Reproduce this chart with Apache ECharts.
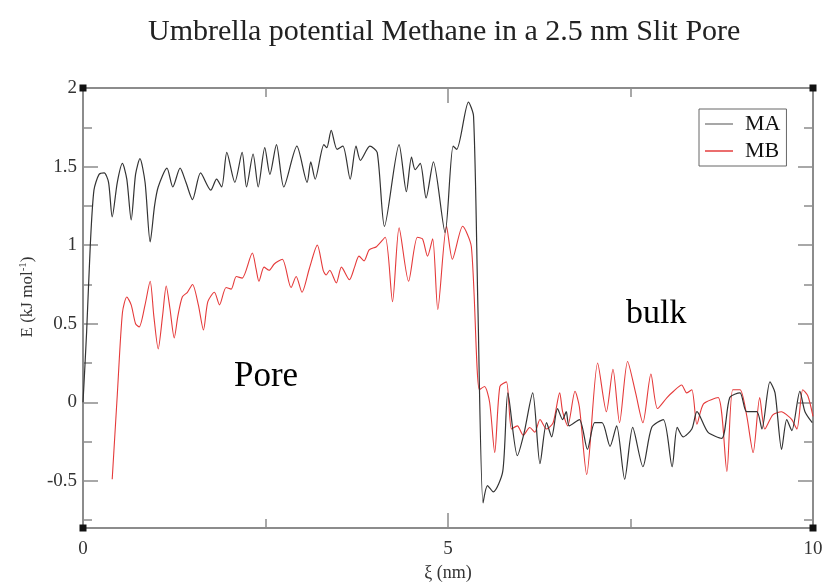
<!DOCTYPE html>
<html>
<head>
<meta charset="utf-8">
<script src="https://cdn.jsdelivr.net/npm/echarts@6/dist/echarts.min.js"></script>
<style>
  html, body { margin: 0; padding: 0; background: #ffffff; }
  #chart { width: 824px; height: 582px; }
</style>
</head>
<body>
<div id="chart"></div>
<script>
// Reaction coordinate ξ (nm) and energy E (kJ/mol) for the MA profile
const maX = [0.00, 0.05, 0.10, 0.15, 0.22, 0.29, 0.35, 0.40, 0.47, 0.54, 0.60, 0.66, 0.72, 0.78, 0.85, 0.92,
  0.98, 1.03, 1.15, 1.23, 1.33, 1.41, 1.50, 1.61, 1.75, 1.83, 1.90, 1.97, 2.08, 2.18, 2.24, 2.33, 2.40,
  2.49, 2.56, 2.65, 2.75, 2.93, 3.07, 3.12, 3.18, 3.30, 3.34, 3.40, 3.48, 3.56, 3.66, 3.74, 3.80, 3.93,
  4.03, 4.13, 4.33, 4.43, 4.50, 4.55, 4.62, 4.70, 4.80, 4.96, 5.07, 5.12, 5.28, 5.35, 5.41, 5.48, 5.54,
  5.62, 5.75, 5.82, 5.95, 6.04, 6.16, 6.26, 6.35, 6.42, 6.50, 6.57, 6.62, 6.66, 6.80, 6.91, 7.01, 7.11,
  7.22, 7.31, 7.42, 7.53, 7.67, 7.79, 7.95, 8.07, 8.14, 8.22, 8.34, 8.41, 8.56, 8.75, 8.86, 9.00, 9.09,
  9.23, 9.30, 9.41, 9.48, 9.57, 9.64, 9.71, 9.82, 9.89, 9.99];
const maY = [0.00, 0.45, 1.00, 1.35, 1.45, 1.46, 1.40, 1.18, 1.40, 1.52, 1.42, 1.16, 1.45, 1.55, 1.40, 1.02,
  1.25, 1.37, 1.49, 1.37, 1.49, 1.40, 1.29, 1.46, 1.35, 1.42, 1.37, 1.59, 1.40, 1.59, 1.37, 1.58, 1.37,
  1.62, 1.45, 1.64, 1.37, 1.63, 1.40, 1.53, 1.42, 1.64, 1.62, 1.73, 1.61, 1.63, 1.42, 1.63, 1.54, 1.63,
  1.59, 1.12, 1.64, 1.34, 1.56, 1.48, 1.52, 1.30, 1.53, 1.08, 1.63, 1.61, 1.91, 1.82, 0.60, -0.64, -0.53,
  -0.57, -0.44, 0.06, -0.34, -0.20, 0.06, -0.39, -0.13, -0.22, -0.04, -0.11, -0.06, -0.15, -0.11, -0.30,
  -0.13, -0.13, -0.28, -0.15, -0.49, -0.16, -0.41, -0.16, -0.11, -0.41, -0.16, -0.22, -0.17, -0.06, -0.19,
  -0.23, 0.03, 0.06, -0.06, -0.06, -0.17, 0.13, 0.06, -0.30, -0.11, -0.18, 0.07, -0.06, -0.13];

// Reaction coordinate ξ (nm) and energy E (kJ/mol) for the MB profile
const mbX = [0.40, 0.47, 0.54, 0.60, 0.66, 0.72, 0.77, 0.85, 0.92, 0.97, 1.03, 1.09, 1.14, 1.19, 1.25, 1.30,
  1.36, 1.43, 1.50, 1.58, 1.65, 1.71, 1.80, 1.87, 1.96, 2.03, 2.10, 2.18, 2.32, 2.37, 2.41, 2.48, 2.55,
  2.62, 2.73, 2.85, 2.92, 3.00, 3.10, 3.21, 3.29, 3.33, 3.38, 3.47, 3.54, 3.65, 3.72, 3.78, 3.85, 3.92,
  4.02, 4.14, 4.24, 4.33, 4.46, 4.58, 4.65, 4.72, 4.79, 4.86, 4.98, 5.06, 5.20, 5.32, 5.43, 5.50, 5.57,
  5.64, 5.71, 5.80, 5.87, 5.95, 6.03, 6.12, 6.19, 6.26, 6.35, 6.44, 6.53, 6.57, 6.64, 6.74, 6.80, 6.90,
  7.05, 7.17, 7.26, 7.35, 7.46, 7.57, 7.67, 7.78, 7.87, 8.00, 8.09, 8.20, 8.27, 8.34, 8.41, 8.50, 8.70,
  8.82, 8.90, 9.00, 9.09, 9.18, 9.27, 9.34, 9.45, 9.57, 9.64, 9.71, 9.78, 9.86, 9.93, 10.00];
const mbY = [-0.49, 0.05, 0.57, 0.67, 0.62, 0.50, 0.48, 0.62, 0.77, 0.55, 0.34, 0.55, 0.74, 0.60, 0.41, 0.55,
  0.67, 0.70, 0.75, 0.62, 0.46, 0.64, 0.70, 0.62, 0.73, 0.72, 0.80, 0.79, 0.95, 0.85, 0.77, 0.86, 0.84,
  0.88, 0.91, 0.73, 0.80, 0.70, 0.85, 1.00, 0.84, 0.81, 0.84, 0.76, 0.86, 0.78, 0.86, 0.93, 0.90, 0.97,
  0.99, 1.05, 0.64, 1.11, 0.77, 1.05, 1.04, 0.93, 1.04, 0.59, 1.12, 0.91, 1.12, 0.99, 0.08, 0.10, 0.00,
  -0.32, 0.10, 0.13, -0.17, -0.15, -0.21, -0.16, -0.19, -0.11, -0.17, -0.13, 0.06, -0.06, -0.15, 0.07,
  -0.03, -0.46, 0.25, -0.06, 0.21, -0.13, 0.26, 0.06, -0.13, 0.18, -0.04, 0.03, 0.07, 0.11, 0.06, 0.08,
  -0.14, -0.01, 0.03, -0.44, 0.08, 0.08, -0.08, -0.32, 0.03, -0.17, -0.08, -0.06, -0.08, -0.11, -0.17,
  0.08, 0.04, -0.09];

// Tick positions
const xMajorTicks = [0, 5, 10];
const xMinorTicks = [2.5, 7.5];
const yMajorTicks = [-0.5, 0, 0.5, 1, 1.5, 2];
const yMinorTicks = [-0.75, -0.25, 0.25, 0.75, 1.25, 1.75];

const seriesNames = ['MA', 'MB'];
const seriesColors = ['#333333', '#e53a3a'];

const SERIF = '"Liberation Serif", "DejaVu Serif", serif';
const FRAME = '#8c8c8c';

function pairs(xs, ys) { return xs.map((x, i) => [x, ys[i]]); }

// Frame axes: one axis for the major ticks and one for the minor ticks on each side
function xAx(position, ticks, len, withLine, withLabel) {
  return {
    type: 'value', min: 0, max: 10, position: position,
    axisLine: { show: withLine, onZero: false, lineStyle: { color: FRAME, width: 2 } },
    axisTick: { show: true, inside: true, length: len, customValues: ticks, lineStyle: { color: FRAME, width: 1.5 } },
    axisLabel: withLabel ? { show: true, customValues: ticks, margin: 12, fontFamily: SERIF, fontSize: 19, color: '#333' } : { show: false },
    splitLine: { show: false }
  };
}
function yAx(position, ticks, len, withLine, withLabel) {
  return {
    type: 'value', min: -0.8, max: 2, position: position,
    axisLine: { show: withLine, onZero: false, lineStyle: { color: FRAME, width: 2 } },
    axisTick: { show: true, inside: true, length: len, customValues: ticks, lineStyle: { color: FRAME, width: 1.5 } },
    axisLabel: withLabel ? { show: true, customValues: ticks, margin: 6, fontFamily: SERIF, fontSize: 19, color: '#333' } : { show: false },
    splitLine: { show: false }
  };
}

const xAxes = [
  xAx('bottom', xMajorTicks, 15, true, true),
  xAx('bottom', xMinorTicks, 9, false, false),
  xAx('top', xMajorTicks, 15, true, false),
  xAx('top', xMinorTicks, 9, false, false)
];
Object.assign(xAxes[0], {
  name: 'ξ (nm)', nameLocation: 'middle', nameGap: 30,
  nameTextStyle: { fontFamily: SERIF, fontSize: 18, color: '#333' }
});

const yAxes = [
  yAx('left', yMajorTicks, 15, true, true),
  yAx('left', yMinorTicks, 9, false, false),
  yAx('right', yMajorTicks, 15, true, false),
  yAx('right', yMinorTicks, 9, false, false)
];
Object.assign(yAxes[0], {
  name: 'E (kJ mol{sup|-1})', nameLocation: 'middle', nameGap: 44, nameRotate: 90,
  nameTextStyle: {
    fontFamily: SERIF, fontSize: 17, color: '#333', padding: [0, 0, 0, 22],
    rich: { sup: { fontFamily: SERIF, fontSize: 11, color: '#333', verticalAlign: 'top', padding: [0, 0, 8, 0] } }
  }
});

const chart = echarts.init(document.getElementById('chart'), null, { renderer: 'canvas' });

const annotations = [
  { type: 'text', left: 234, top: 359, style: { text: 'Pore', font: '35px ' + SERIF, fill: '#000' } },
  { type: 'text', left: 626, top: 297, style: { text: 'bulk', font: '34px ' + SERIF, fill: '#000' } }
];

chart.setOption({
  backgroundColor: '#ffffff',
  animation: false,
  title: {
    text: 'Umbrella potential Methane in a 2.5 nm Slit Pore',
    left: 143, top: 12,
    textStyle: { fontFamily: SERIF, fontSize: 30, fontWeight: 'normal', color: '#222' }
  },
  grid: { left: 83, right: 11, top: 88, bottom: 54, outerBoundsMode: 'none', containLabel: false },
  legend: {
    data: seriesNames.map(n => ({ name: n, icon: 'rect' })),
    orient: 'vertical',
    left: 699, top: 109,
    backgroundColor: '#ffffff',
    borderColor: '#666', borderWidth: 1,
    padding: [4, 6, 4, 6],
    itemWidth: 28, itemHeight: 1.3, itemGap: 5,
    textStyle: { fontFamily: SERIF, fontSize: 22, color: '#111', padding: [0, 0, 0, 7] }
  },
  xAxis: xAxes,
  yAxis: yAxes,
  series: [
    {
      name: seriesNames[0], type: 'line', xAxisIndex: 0, yAxisIndex: 0,
      data: pairs(maX, maY), symbol: 'none', smooth: 0.25,
      lineStyle: { color: seriesColors[0], width: 1.2 }, itemStyle: { color: '#777' }, z: 3
    },
    {
      name: seriesNames[1], type: 'line', xAxisIndex: 0, yAxisIndex: 0,
      data: pairs(mbX, mbY), symbol: 'none', smooth: 0.25,
      lineStyle: { color: seriesColors[1], width: 1.1 }, itemStyle: { color: '#e02020' }, z: 2
    }
  ],
  graphic: annotations
});

// Small square markers at the four corners of the plot frame
function cornerMarkers() {
  const g = chart.getModel().getComponent('grid', 0).coordinateSystem.getRect();
  const s = 7;
  const pts = [[g.x, g.y], [g.x + g.width, g.y], [g.x, g.y + g.height], [g.x + g.width, g.y + g.height]];
  const marks = pts.map(p => ({
    type: 'rect', shape: { x: p[0] - s / 2, y: p[1] - s / 2, width: s, height: s },
    style: { fill: '#111' }, z: 10
  }));
  chart.setOption({ graphic: annotations.concat(marks) }, { replaceMerge: ['graphic'] });
}
cornerMarkers();
</script>
</body>
</html>
